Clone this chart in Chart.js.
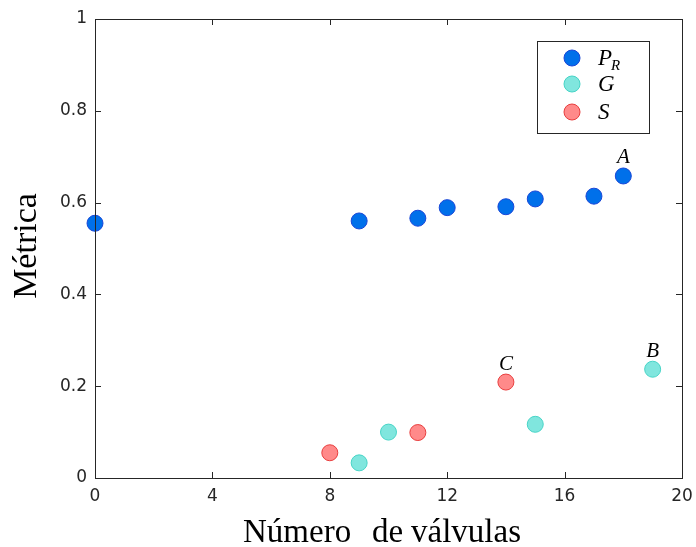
<!DOCTYPE html>
<html>
<head>
<meta charset="utf-8">
<script src="https://cdn.jsdelivr.net/npm/chart.js@4.4.0/dist/chart.umd.min.js"></script>
<style>
  html, body { margin: 0; padding: 0; background: #fff; }
  #wrap { width: 696px; height: 547px; }
</style>
</head>
<body>
<div id="wrap"><canvas id="chart" width="696" height="547"></canvas></div>
<script>
// Datos
const prX = [0, 9, 11, 12, 14, 15, 17, 18];
const prY = [0.555, 0.560, 0.566, 0.589, 0.591, 0.608, 0.614, 0.658];
const gX = [9, 10, 15, 19];
const gY = [0.033, 0.100, 0.117, 0.237];
const sX = [8, 11, 14];
const sY = [0.055, 0.099, 0.209];

const xTicks = [0, 4, 8, 12, 16, 20];
const yTicks = [0, 0.2, 0.4, 0.6, 0.8, 1];

const legendMain = ['P', 'G', 'S'];
const legendSub = ['R', '', ''];

// etiquetas sobre puntos: [dataset, indice, texto]
const pointNotes = [[0, 7, 'A'], [1, 3, 'B'], [2, 2, 'C']];

const xTitle = ['Número', 'de', 'válvulas'];
const yTitle = 'Métrica';

const INK = '#262626';
const SERIF = '"Liberation Serif", "DejaVu Serif", serif';

function toPoints(xs, ys) {
    return xs.map((x, i) => ({ x: x, y: ys[i] }));
}

const series = [
    { data: toPoints(prX, prY), fill: 'rgb(0,112,234)', edge: 'rgb(25,70,215)' },
    { data: toPoints(gX, gY), fill: 'rgb(128,230,222)', edge: 'rgb(70,212,198)' },
    { data: toPoints(sX, sY), fill: 'rgb(255,138,138)', edge: 'rgb(232,62,62)' }
];

// Caja, marcas interiores, leyenda, anotaciones y titulos
const decorPlugin = {
    id: 'decor',
    afterDatasetsDraw(chart) {
        const ctx = chart.ctx;
        const a = chart.chartArea;
        const xs = chart.scales.x;
        const ys = chart.scales.y;
        ctx.save();

        // caja de ejes
        ctx.strokeStyle = INK;
        ctx.lineWidth = 1;
        ctx.strokeRect(Math.round(a.left) + 0.5, Math.round(a.top) + 0.5,
            Math.round(a.right - a.left), Math.round(a.bottom - a.top));

        // marcas hacia dentro
        const tl = 6;
        ctx.beginPath();
        xTicks.forEach(v => {
            const px = Math.round(xs.getPixelForValue(v)) + 0.5;
            ctx.moveTo(px, a.bottom); ctx.lineTo(px, a.bottom - tl);
            ctx.moveTo(px, a.top); ctx.lineTo(px, a.top + tl);
        });
        yTicks.forEach(v => {
            const py = Math.round(ys.getPixelForValue(v)) + 0.5;
            ctx.moveTo(a.left, py); ctx.lineTo(a.left + tl, py);
            ctx.moveTo(a.right, py); ctx.lineTo(a.right - tl, py);
        });
        ctx.stroke();

        // anotaciones A, B, C
        ctx.fillStyle = '#000';
        ctx.font = 'italic 21px ' + SERIF;
        ctx.textAlign = 'center';
        ctx.textBaseline = 'middle';
        pointNotes.forEach(n => {
            const p = chart.getDatasetMeta(n[0]).data[n[1]];
            ctx.fillText(n[2], p.x, p.y - 18);
        });

        // leyenda
        const lx = 537, ly = 41, lw = 112, lh = 92;
        ctx.fillStyle = '#fff';
        ctx.fillRect(lx, ly, lw, lh);
        ctx.strokeStyle = INK;
        ctx.strokeRect(lx + 0.5, ly + 0.5, lw, lh);
        const rowY = [58, 84, 112];
        series.forEach((s, i) => {
            ctx.beginPath();
            ctx.arc(572, rowY[i], 8, 0, Math.PI * 2);
            ctx.fillStyle = s.fill;
            ctx.fill();
            ctx.strokeStyle = s.edge;
            ctx.stroke();
            ctx.fillStyle = '#000';
            ctx.textAlign = 'left';
            ctx.textBaseline = 'alphabetic';
            ctx.font = 'italic 23px ' + SERIF;
            ctx.fillText(legendMain[i], 598, rowY[i] + 7);
            if (legendSub[i]) {
                const w = ctx.measureText(legendMain[i]).width;
                ctx.font = 'italic 15px ' + SERIF;
                ctx.fillText(legendSub[i], 598 + w - 1, rowY[i] + 12);
            }
        });

        // titulos de ejes
        ctx.fillStyle = '#000';
        ctx.font = '33px ' + SERIF;
        ctx.textAlign = 'left';
        ctx.textBaseline = 'alphabetic';
        const wordX = [243, 372, 411];
        xTitle.forEach((w, i) => ctx.fillText(w, wordX[i], 542));

        ctx.translate(36, 246);
        ctx.rotate(-Math.PI / 2);
        ctx.textAlign = 'center';
        ctx.font = '34px ' + SERIF;
        ctx.fillText(yTitle, 0, 0);
        ctx.restore();
    }
};

const tickFont = { family: '"DejaVu Sans", sans-serif', size: 17 };

new Chart(document.getElementById('chart'), {
    type: 'scatter',
    data: {
        datasets: series.map((s, i) => ({
            label: legendMain[i] + legendSub[i],
            data: s.data,
            backgroundColor: s.fill,
            borderColor: s.edge,
            borderWidth: 1,
            pointRadius: 8,
            pointHoverRadius: 8,
            clip: false
        }))
    },
    options: {
        responsive: false,
        animation: false,
        events: [],
        layout: { autoPadding: false, padding: { top: 19, right: 14, left: 0, bottom: 0 } },
        plugins: {
            legend: { display: false },
            tooltip: { enabled: false }
        },
        scales: {
            x: {
                type: 'linear',
                min: 0,
                max: 20,
                afterBuildTicks(scale) { scale.ticks = xTicks.map(v => ({ value: v })); },
                afterFit(scale) {
                    scale.height = 69;
                    scale.paddingLeft = 0;
                    scale.paddingRight = 0;
                },
                grid: { display: false, drawTicks: false },
                border: { display: false },
                ticks: { color: INK, font: tickFont, padding: 8, maxRotation: 0,
                    callback: v => String(v) }
            },
            y: {
                type: 'linear',
                min: 0,
                max: 1,
                afterBuildTicks(scale) { scale.ticks = yTicks.map(v => ({ value: v })); },
                afterFit(scale) {
                    scale.width = 95;
                    scale.paddingTop = 0;
                    scale.paddingBottom = 0;
                },
                grid: { display: false, drawTicks: false },
                border: { display: false },
                ticks: { color: INK, font: tickFont, padding: 8,
                    callback: v => String(Math.round(v * 10) / 10) }
            }
        }
    },
    plugins: [decorPlugin]
});
</script>
</body>
</html>
